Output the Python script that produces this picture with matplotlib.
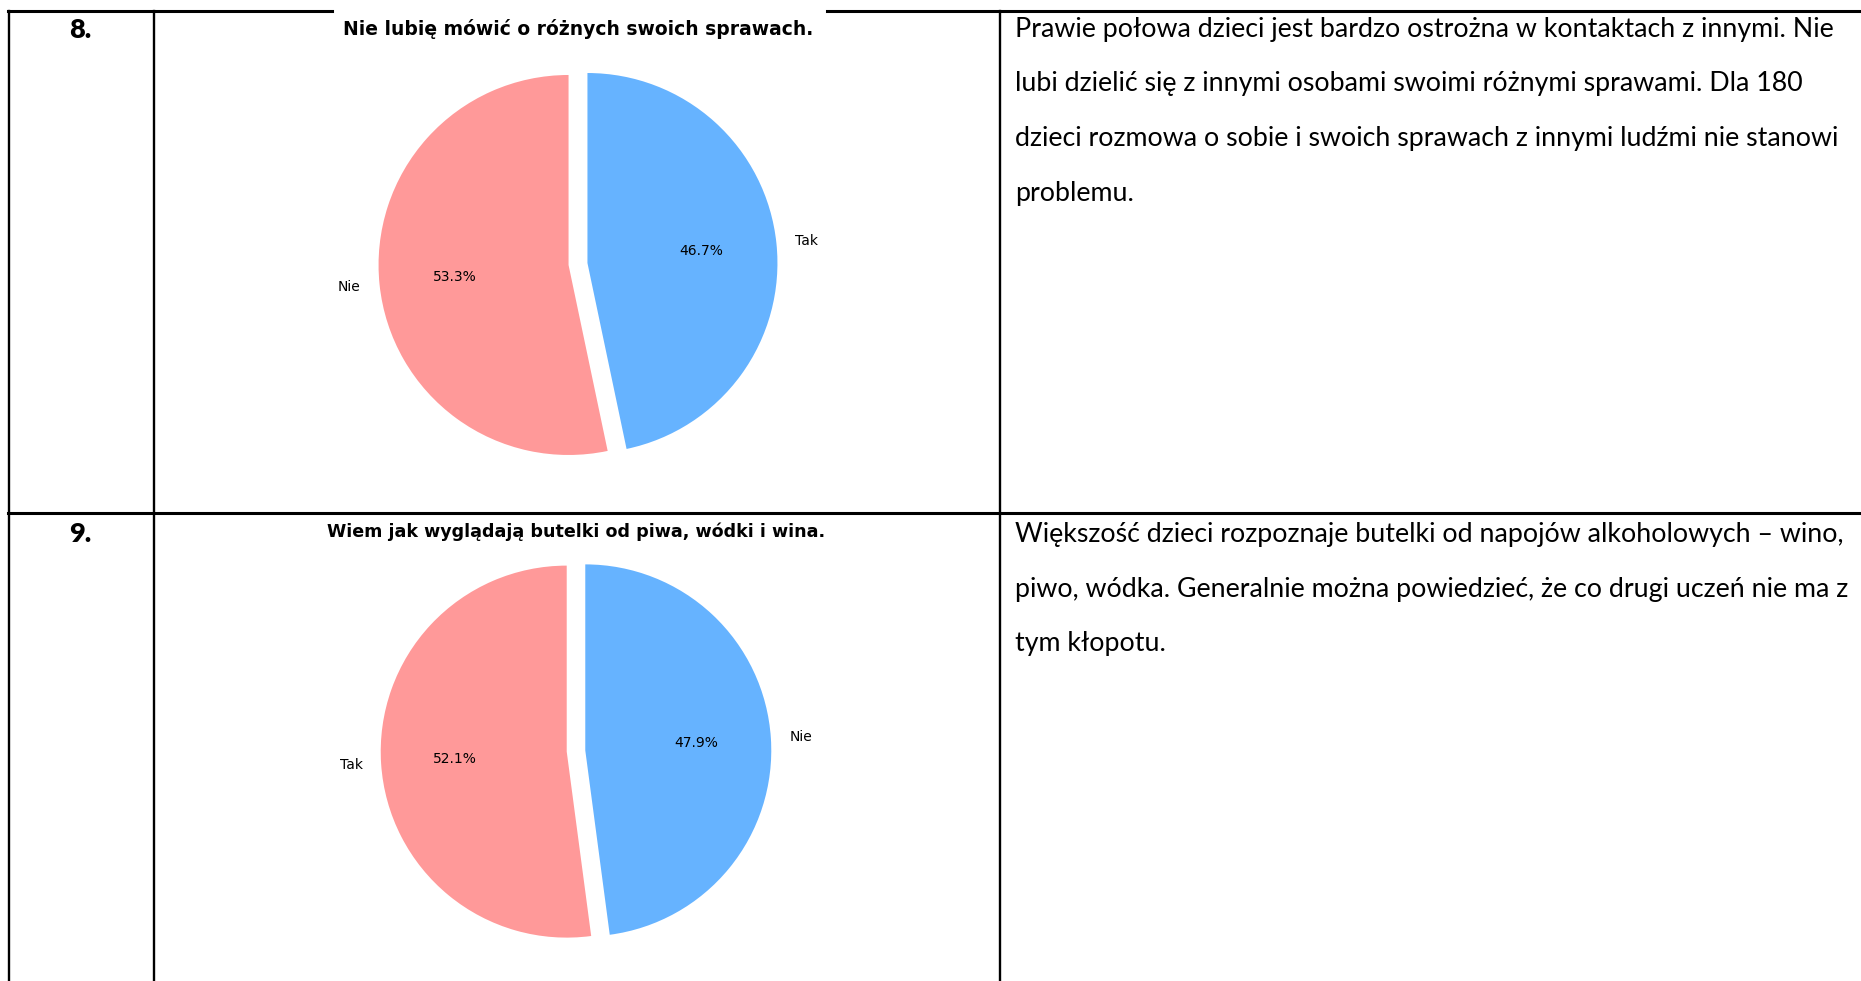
import numpy as np
import matplotlib
matplotlib.use('Agg')
import matplotlib.pyplot as plt

# row numbers, pie titles and answers
numery = ['8.', '9.']
pytania = ['Nie lubię mówić o różnych swoich sprawach.',
           'Wiem jak wyglądają butelki od piwa, wódki i wina.']
etykiety8 = ['Nie', 'Tak']
wartosci8 = [53.3, 46.7]
etykiety9 = ['Tak', 'Nie']
wartosci9 = [52.1, 47.9]
kolory = ['#ff9999', '#66b3ff']

opis8 = ['Prawie połowa dzieci jest bardzo ostrożna w kontaktach z innymi. Nie',
         'lubi dzielić się z innymi osobami swoimi różnymi sprawami. Dla 180',
         'dzieci rozmowa o sobie i swoich sprawach z innymi ludźmi nie stanowi',
         'problemu.']
opis9 = ['Większość dzieci rozpoznaje butelki od napojów alkoholowych – wino,',
         'piwo, wódka. Generalnie można powiedzieć, że co drugi uczeń nie ma z',
         'tym kłopotu.']

W, H = 1861, 981
fig = plt.figure(figsize=(W / 100, H / 100), dpi=100)
ax = fig.add_axes([0, 0, 1, 1])

def Y(y):
    # page coords from the top
    return H - y

# pies: values, labels, centre x, centre y, radius, title y, title size
pies = [(wartosci8, etykiety8, 578, 264, 190, 29, 13.5),
        (wartosci9, etykiety9, 576, 751, 186, 532, 12.6)]
for i, (vals, labs, cx, cy, r, ty, tfs) in enumerate(pies):
    # explode is in data units here, so scale by radius
    wedges, texts, autotexts = ax.pie(
        vals, labels=labs, colors=kolory, autopct='%1.1f%%', startangle=90,
        explode=(0.05 * r, 0.05 * r), center=(cx, Y(cy)), radius=r,
        textprops={'fontsize': 10, 'family': 'DejaVu Sans'})
    # labels left of the centre are right aligned
    for t in texts:
        if t.get_position()[0] < cx:
            t.set_ha('right')
        else:
            t.set_ha('left')
    ax.text(cx, Y(ty), pytania[i], ha='center', va='center',
            fontsize=tfs, fontweight='bold', family='DejaVu Sans')

ax.set_xlim(0, W)
ax.set_ylim(0, H)
ax.axis('off')

# table lines
lw = 1.7
ax.plot([8, 332], [Y(11), Y(11)], color='black', lw=2.2)
ax.plot([827, W], [Y(11), Y(11)], color='black', lw=2.2)
ax.plot([8, W], [Y(513), Y(513)], color='black', lw=2.2)
for x in [9, 154, 1000]:
    ax.plot([x, x], [Y(11), Y(H)], color='black', lw=lw)

# numbers
ax.text(80, Y(38), numery[0], ha='center', va='baseline', fontsize=19.5,
        fontweight='heavy', family='Lato')
ax.text(80, Y(542), numery[1], ha='center', va='baseline', fontsize=19.5,
        fontweight='heavy', family='Lato')

# comments
for k, linia in enumerate(opis8):
    ax.text(1015, Y(37 + 54.5 * k), linia, ha='left', va='baseline',
            fontsize=19.3, family='Lato')
for k, linia in enumerate(opis9):
    ax.text(1015, Y(542 + 54.5 * k), linia, ha='left', va='baseline',
            fontsize=19.3, family='Lato')

plt.savefig('out.png', dpi=100)
